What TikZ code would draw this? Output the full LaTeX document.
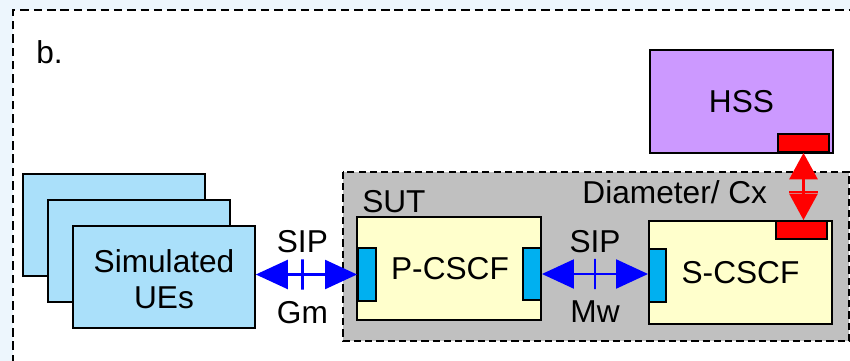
\documentclass[tikz,border=0pt]{standalone}
\usepackage{fontspec}
\setmainfont{Liberation Sans}
\usetikzlibrary{arrows.meta}
\definecolor{pagebg}{RGB}{237,246,253}
\definecolor{uefill}{RGB}{170,224,250}
\definecolor{portblue}{RGB}{0,176,240}
\definecolor{cscffill}{RGB}{255,255,204}
\definecolor{hssfill}{RGB}{204,153,255}
\definecolor{sutfill}{RGB}{192,192,192}
\begin{document}
\begin{tikzpicture}[x=0.025cm, y=-0.025cm]
    \tikzset{box/.style={rectangle, draw=black, line width=1.1pt, inner sep=0pt, align=center, font=\fontsize{22.5}{26}\selectfont}}
    \tikzset{port/.style={rectangle, draw=black, line width=1.3pt, inner sep=0pt}}
    \tikzset{lbl/.style={inner sep=0pt, align=center, font=\fontsize{22.5}{26}\selectfont}}
    \tikzset{sigblue/.style={draw=blue, line width=2pt, {Triangle[length=0.8cm, width=0.72cm]}-{Triangle[length=0.8cm, width=0.72cm]}}}
    \tikzset{sigred/.style={draw=red, line width=2pt, {Triangle[length=0.66cm, width=0.7cm]}-{Triangle[length=0.66cm, width=0.7cm]}}}
    \tikzset{tickh/.style={draw, line width=1.6pt, minimum width=0pt, minimum height=0.75cm, inner sep=0pt}}
    \tikzset{tickv/.style={draw, line width=1.6pt, minimum width=0.72cm, minimum height=0pt, inner sep=0pt}}

    \useasboundingbox (0,0) rectangle (850,361);
    \clip (0,0) rectangle (850,361);

    % ── FRAME ────────────────────────────────────────────
    \fill[pagebg] (0,0) rectangle (850,361);
    \fill[white] (13,10) rectangle (880,390);
    \draw[line width=1.2pt, dash pattern=on 6pt off 3.5pt] (13,390) -- (13,10) -- (880,10);
    \node[lbl, anchor=west] (tag) at (36,52) {b.};

    % ── SUT ──────────────────────────────────────────────
    \draw[fill=sutfill, line width=0.9pt, dash pattern=on 5pt off 3pt] (343,172) rectangle (849,341);
    \node[lbl, anchor=west] (sut) at (362,202) {SUT};

    % ── BOXES ────────────────────────────────────────────
    \foreach \k in {1,2,3} {
        \node[box, fill=uefill, minimum width=4.55cm, minimum height=2.55cm] (ue\k) at (89+25*\k, 199+26*\k) {};
    }
    \node[lbl] (uetext) at (164,279) {Simulated\\UEs};

    \node[box, fill=cscffill, minimum width=4.6cm, minimum height=2.575cm] (pcscf) at (449,268.5) {\hspace{0.05cm}P-CSCF};
    \node[box, fill=cscffill, minimum width=4.575cm, minimum height=2.575cm] (scscf) at (740.5,272.5) {S-CSCF};
    \node[box, fill=hssfill, minimum width=4.575cm, minimum height=2.575cm] (hss) at (741.5,101.5) {HSS};

    % porte
    \node[port, fill=portblue, minimum width=0.45cm, minimum height=1.325cm] (pl) at (367,274.5) {};
    \node[port, fill=portblue, minimum width=0.45cm, minimum height=1.3cm] (pr) at (532,274) {};
    \node[port, fill=portblue, minimum width=0.425cm, minimum height=1.325cm] (sl) at (657.5,275.5) {};
    \node[port, fill=red, minimum width=1.275cm, minimum height=0.45cm] (hp) at (803.5,143) {};
    \node[port, fill=red, minimum width=1.275cm, minimum height=0.45cm] (sp) at (801.5,230) {};

    % ── INTERFACES ───────────────────────────────────────
    \draw[sigblue] (pl.west -| ue3.east) -- node[pos=0.46, tickh] {} node[pos=0.46, lbl, above=0.5cm] {SIP} node[pos=0.46, lbl, below=0.625cm] {Gm} (pl.west);
    \draw[sigblue] (pr.east) -- node[tickh] {} node[lbl, above=0.5cm] {SIP} node[lbl, below=0.625cm] {Mw} (pr.east -| sl.west);
    \draw[sigred] (hp.south) -- node[pos=0.58, tickv] {} node[pos=0.58, lbl, left=0.875cm] {Diameter/ Cx} (hp.south |- sp.north);

\end{tikzpicture}
\end{document}
